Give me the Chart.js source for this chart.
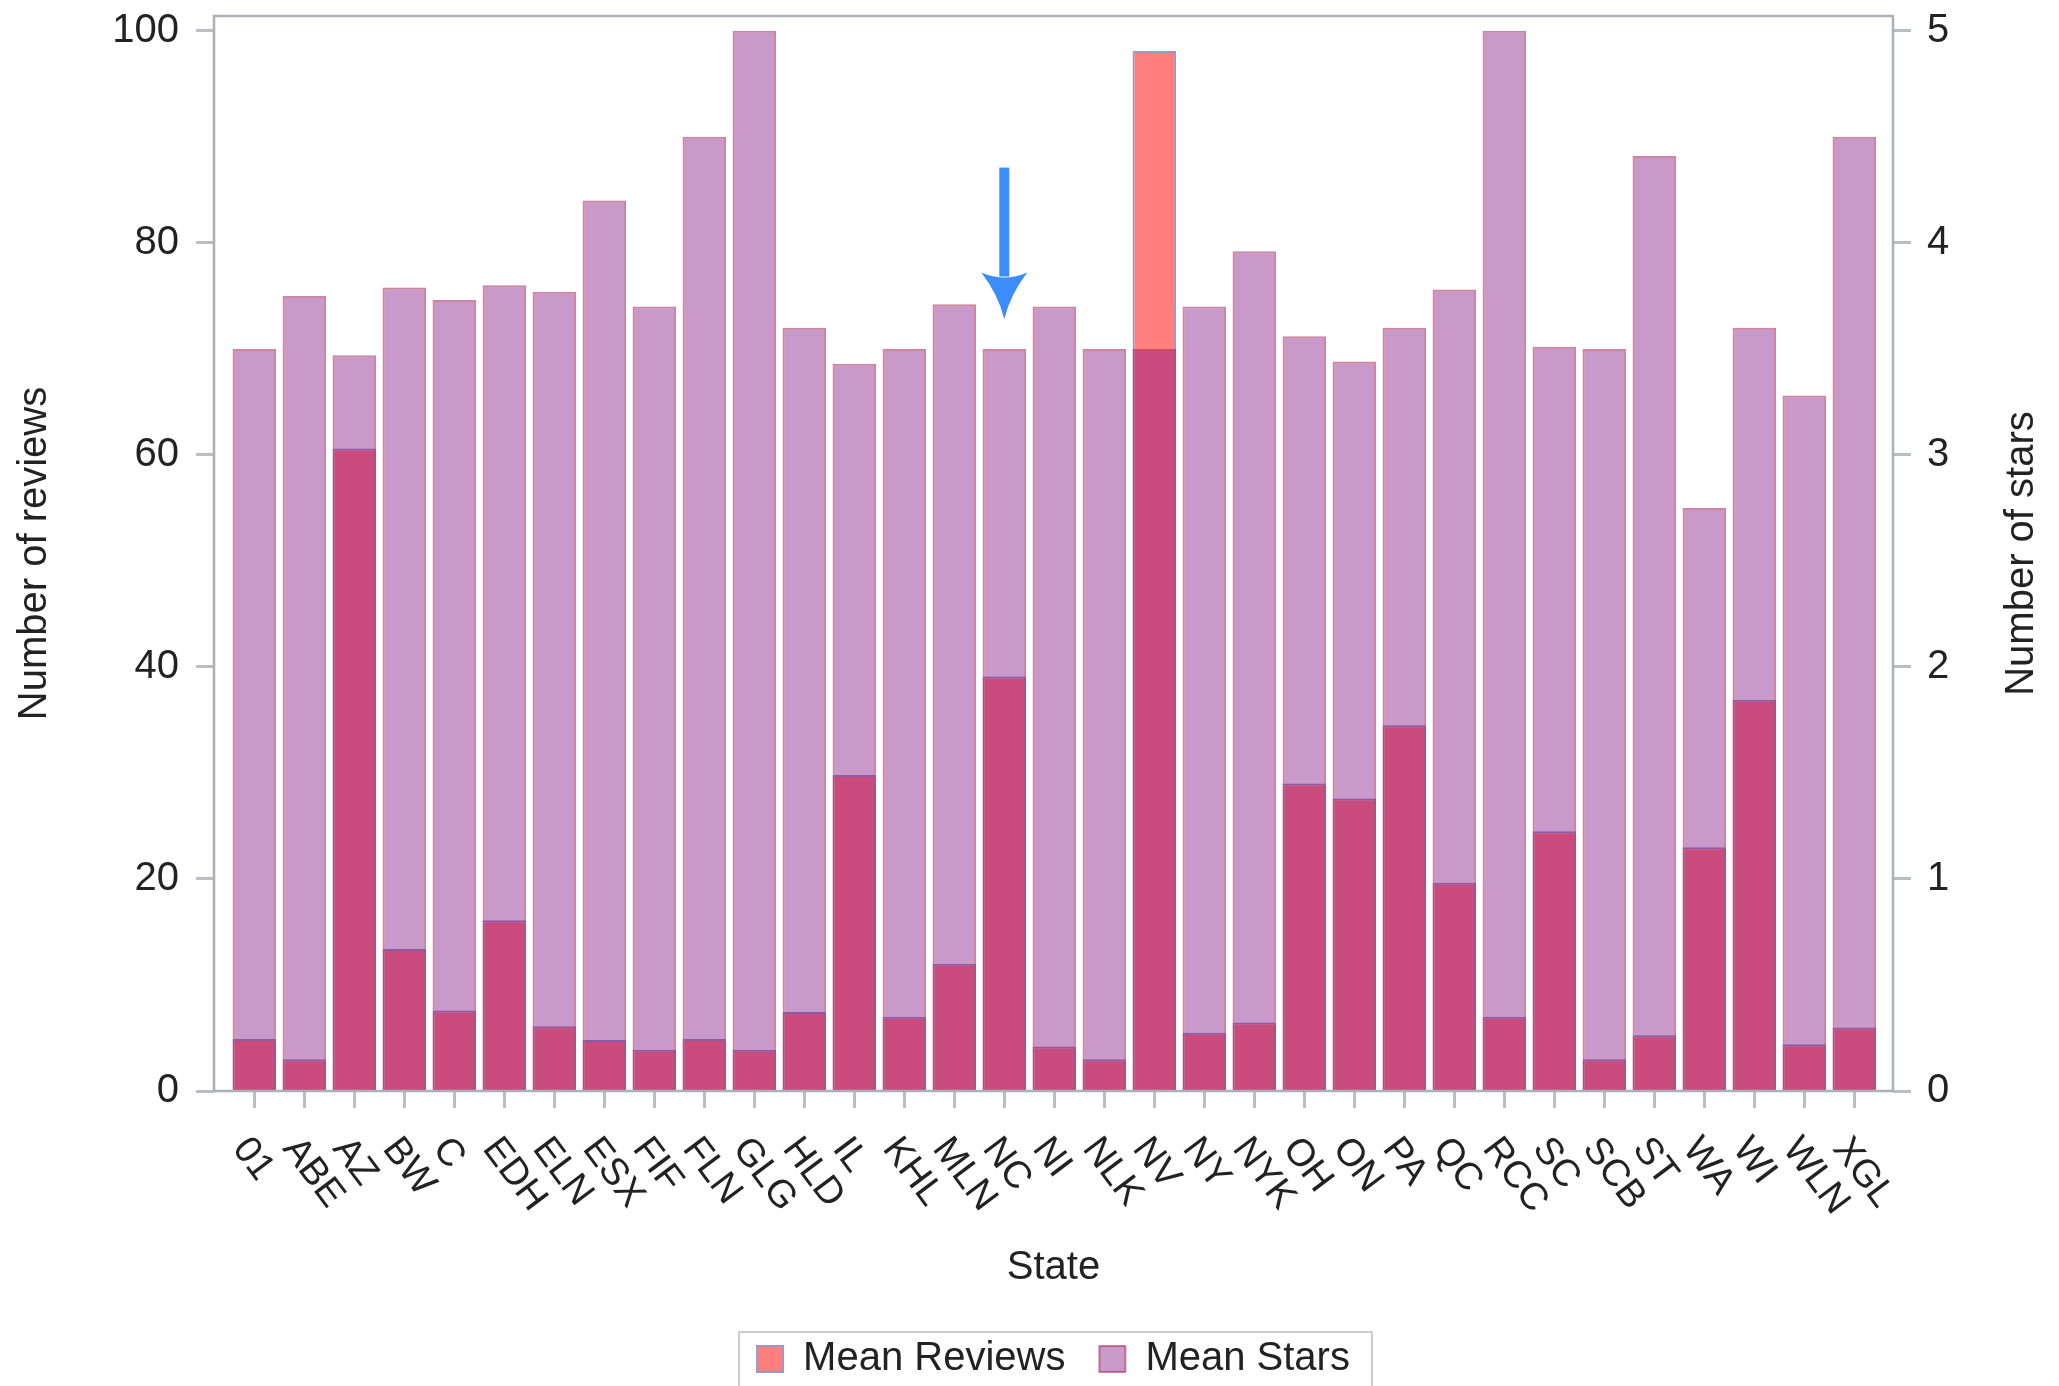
<!DOCTYPE html>
<html>
<head>
<meta charset="utf-8">
<script src="https://cdn.jsdelivr.net/npm/chart.js@4.4.1/dist/chart.umd.min.js"></script>
<style>
  html, body { margin: 0; padding: 0; background: #fff; }
  #wrap { width: 2059px; height: 1386px; }
</style>
</head>
<body>
<div id="wrap"><canvas id="myChart" width="2059" height="1386"></canvas></div>
<script>
// values
var states = ["01", "ABE", "AZ", "BW", "C", "EDH", "ELN", "ESX", "FIF", "FLN", "GLG",
  "HLD", "IL", "KHL", "MLN", "NC", "NI", "NLK", "NV", "NY", "NYK", "OH", "ON", "PA",
  "QC", "RCC", "SC", "SCB", "ST", "WA", "WI", "WLN", "XGL"];
var meanReviews = [4.9, 3.0, 60.6, 13.4, 7.6, 16.1, 6.1, 4.8, 3.9, 4.9, 3.9,
  7.45, 29.8, 7.0, 12.0, 39.1, 4.2, 3.0, 98.1, 5.5, 6.45, 29.0, 27.6, 34.5,
  19.65, 7.0, 24.5, 3.0, 5.25, 23.0, 36.9, 4.4, 6.0];
var meanStars = [3.5, 3.75, 3.47, 3.79, 3.73, 3.8, 3.77, 4.2, 3.7, 4.5, 5.0,
  3.6, 3.43, 3.5, 3.71, 3.5, 3.7, 3.5, 3.5, 3.7, 3.96, 3.56, 3.44, 3.6,
  3.78, 5.0, 3.51, 3.5, 4.41, 2.75, 3.6, 3.28, 4.5];
var reviewTicks = [0, 20, 40, 60, 80, 100];
var starTicks = [0, 1, 2, 3, 4, 5];

// the blue arrow pointing at one state (in review units)
var arrowState = "NC";
var arrowFrom = 87.1, arrowHead = 77.2, arrowTip = 72.8;

var FONT = "'Liberation Sans', Arial, Helvetica, sans-serif";
var TEXT = "#222";
var FRAME = "#A9B0B6";

Chart.defaults.font.family = FONT;
Chart.defaults.font.size = 40;
Chart.defaults.color = TEXT;

// frame, rotated state labels, right title, legend box, arrow
var extras = {
  id: "extras",
  afterDraw: function (chart) {
    var ctx = chart.ctx, a = chart.chartArea;
    var xs = chart.scales.x, ys = chart.scales.y;

    ctx.save();
    ctx.strokeStyle = FRAME;
    ctx.lineWidth = 2.5;
    ctx.strokeRect(a.left, a.top, a.right - a.left, a.bottom - a.top);

    // state labels, turned clockwise
    ctx.fillStyle = TEXT;
    ctx.font = "38px " + FONT;
    ctx.textAlign = "left";
    ctx.textBaseline = "top";
    states.forEach(function (s, i) {
      ctx.save();
      ctx.translate(xs.getPixelForValue(i) + 1, a.bottom + 40);
      ctx.rotate(53 * Math.PI / 180);
      ctx.fillText(s, 0, 0);
      ctx.restore();
    });

    // right axis title reads bottom to top
    ctx.save();
    ctx.font = "40px " + FONT;
    ctx.textAlign = "center";
    ctx.textBaseline = "middle";
    ctx.translate(2022, (a.top + a.bottom) / 2);
    ctx.rotate(-Math.PI / 2);
    ctx.fillText("Number of stars", 0, 0);
    ctx.restore();

    // legend border
    var hb = chart.legend.legendHitBoxes;
    if (hb && hb.length) {
      var l = Math.min.apply(null, hb.map(function (h) { return h.left; }));
      var r = Math.max.apply(null, hb.map(function (h) { return h.left + h.width; }));
      var t = hb[0].top;
      ctx.strokeStyle = "#CCCCCC";
      ctx.lineWidth = 2;
      ctx.strokeRect(l - 18, t - 7, r - l + 40, 60);
    }

    // arrow
    var ax = xs.getPixelForValue(states.indexOf(arrowState));
    var y0 = ys.getPixelForValue(arrowFrom);
    var y1 = ys.getPixelForValue(arrowHead);
    var y2 = ys.getPixelForValue(arrowTip);
    ctx.fillStyle = "#3A8DFA";
    ctx.fillRect(ax - 5, y0, 10, y1 - y0 + 4);
    ctx.beginPath();
    ctx.moveTo(ax - 23, y1);
    ctx.quadraticCurveTo(ax, y1 + 10, ax + 23, y1);
    ctx.quadraticCurveTo(ax + 6, y1 + 22, ax, y2);
    ctx.quadraticCurveTo(ax - 6, y1 + 22, ax - 23, y1);
    ctx.closePath();
    ctx.fill();
    ctx.restore();
  }
};

new Chart("myChart", {
  type: "bar",
  data: {
    labels: states,
    datasets: [{
      label: "Mean Reviews",
      data: meanReviews,
      yAxisID: "y",
      order: 1,
      backgroundColor: "#FF7F7F",
      borderColor: "#9C98C4",
      borderWidth: 2
    }, {
      label: "Mean Stars",
      data: meanStars,
      yAxisID: "y1",
      order: 0,
      backgroundColor: "rgba(120, 0, 122, 0.4)",
      borderColor: "rgba(165, 35, 80, 0.55)",
      borderWidth: 2
    }]
  },
  options: {
    responsive: false,
    animation: false,
    devicePixelRatio: 1,
    layout: { padding: { top: 16, bottom: -3, left: 0, right: 0 } },
    datasets: { bar: { grouped: false, barPercentage: 0.87, categoryPercentage: 1 } },
    plugins: {
      tooltip: { enabled: false },
      legend: {
        position: "bottom",
        fullSize: false,
        labels: {
          boxWidth: 26,
          boxHeight: 26,
          padding: 34,
          color: TEXT,
          font: { size: 40 },
          sort: function (a, b) { return a.datasetIndex - b.datasetIndex; }
        }
      }
    },
    scales: {
      x: {
        ticks: { display: false },
        grid: { offset: false, drawOnChartArea: false, tickLength: 17, tickColor: "#B8BEC3", tickWidth: 3 },
        border: { display: false },
        title: { display: true, text: "State", color: TEXT, font: { size: 40 }, padding: { top: 0, bottom: 13 } },
        afterBuildTicks: function (s) {
          // wider side margins than a plain half category
          s._startValue = -0.806;
          s._valueRange = states.length - 1 + 0.806 + 0.774;
        },
        afterFit: function (s) { s.height = 214; s.paddingLeft = 0; s.paddingRight = 0; }
      },
      y: {
        position: "left",
        min: 0,
        max: 101.4,
        ticks: { stepSize: 20, includeBounds: false, padding: 17, color: TEXT, font: { size: 40 } },
        afterBuildTicks: function (s) { s.ticks = reviewTicks.map(function (v) { return { value: v }; }); },
        grid: { drawOnChartArea: false, tickLength: 18, tickColor: "#B8BEC3", tickWidth: 3 },
        border: { display: false },
        title: { display: true, text: "Number of reviews", color: TEXT, font: { size: 40 }, padding: { top: 11, bottom: 0 } },
        afterFit: function (s) { s.width = 214; s.paddingTop = 0; s.paddingBottom = 0; }
      },
      y1: {
        position: "right",
        min: 0,
        max: 5.07,
        ticks: { stepSize: 1, includeBounds: false, padding: 16, color: TEXT, font: { size: 40 } },
        afterBuildTicks: function (s) { s.ticks = starTicks.map(function (v) { return { value: v }; }); },
        grid: { drawOnChartArea: false, tickLength: 18, tickColor: "#B8BEC3", tickWidth: 3 },
        border: { display: false },
        afterFit: function (s) { s.width = 2059 - 1893; s.paddingTop = 0; s.paddingBottom = 0; }
      }
    }
  },
  plugins: [extras]
});
</script>
</body>
</html>
